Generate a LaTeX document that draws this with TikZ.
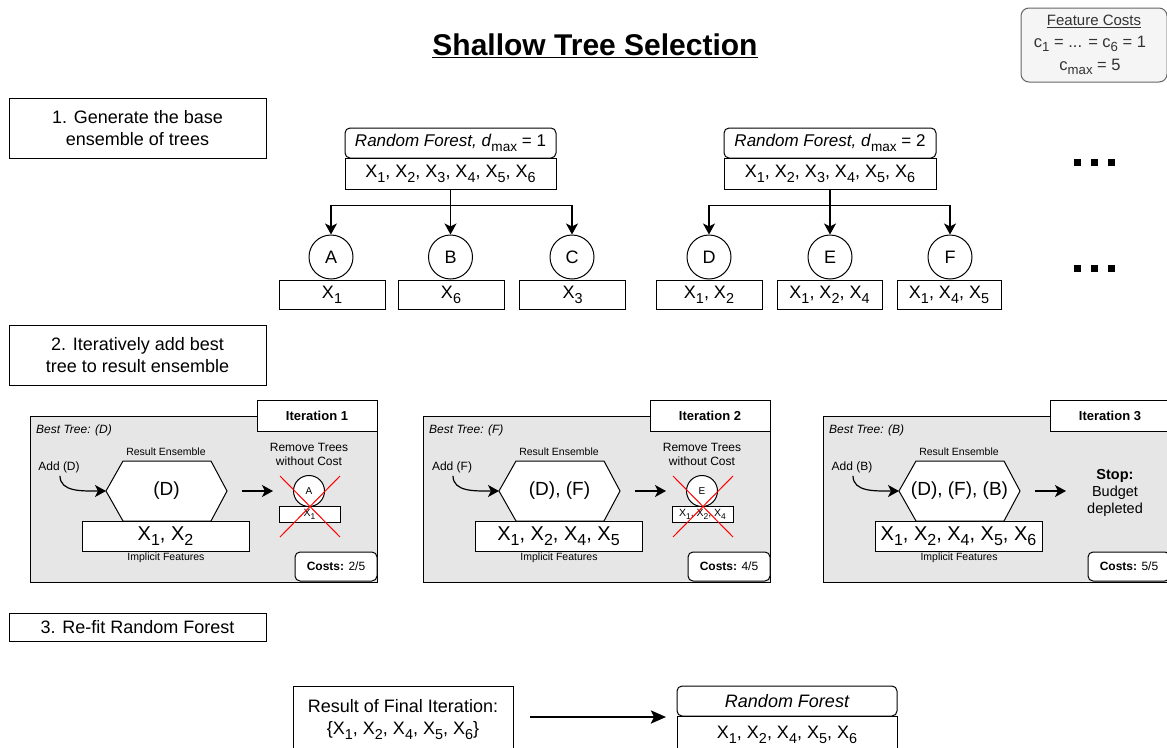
\documentclass[tikz,border=0pt]{standalone}
\usepackage{fontspec}
\setmainfont{Liberation Sans}
\usetikzlibrary{arrows.meta}
\makeatletter
\newcommand\sub[1]{{\dimen@=\f@size pt\dimen@=0.8\dimen@\raisebox{-0.27em}{\fontsize{\strip@pt\dimen@}{0}\selectfont #1}}}
\makeatother
\newcommand\xs[1]{X\sub{#1}}
\newcommand\fs[2]{\fontsize{#1}{#2}\selectfont}
\definecolor{panelgray}{RGB}{230,230,230}
\definecolor{fcfill}{RGB}{245,245,245}
\definecolor{fcdraw}{RGB}{102,102,102}
\definecolor{fctext}{RGB}{51,51,51}
\tikzset{
  box/.style={draw, line width=1pt, fill=white, inner sep=0pt, align=center},
  hdr/.style={box, rounded corners=5pt},
  leaf/.style={circle, draw, line width=1pt, fill=white, minimum size=44pt, inner sep=0pt, font={\fs{18}{22}}},
  arr/.style={line width=1.2pt, -{Stealth[length=11pt,width=12pt,inset=3pt]}},
  lbl/.style={inner sep=0pt, align=center},
}
\newcommand\iterpanel[7]{%
  \node[draw, line width=1pt, fill=panelgray, minimum width=347, minimum height=166, inner sep=0pt] (#1panel) at (203.5,499) {};
  \node[box, minimum width=120, minimum height=31, font={\fs{13}{16}\bfseries}] (#1title) at (317,415.5) {Iteration #2};
  \node[lbl, anchor=west, font={\fs{12}{14}\itshape}] (#1best) at (36,430) {Best Tree: (#3)};
  \node[lbl, font={\fs{10.5}{12}}] (#1relab) at (166,452) {Result Ensemble};
  \draw[line width=1pt, fill=white] (123,461) -- (211,461) -- (227,491) -- (211,521) -- (123,521) -- (106,491) -- cycle;
  \node[lbl, font={\fs{19}{22}}] (#1hex) at (166.5,491) {#5};
  \coordinate (#1hexL) at (106,491);
  \coordinate (#1hexR) at (242,491);
  \coordinate (#1arrE) at (273,491);
  \node[box, minimum width=167, minimum height=30, font={\fs{20}{24}}] (#1feat) at (165.5,536) {#6};
  \node[lbl, font={\fs{10.5}{12}}] (#1implab) at (166,558) {Implicit Features};
  \node[lbl, font={\fs{12}{14}}] (#1add) at (59,467) {Add (#4)};
  \draw[arr] (#1add.south) ++(1,3) .. controls (60,492) and (82,491) .. (#1hexL);
  \draw[arr] (#1hexR) -- (#1arrE);
  \node[box, rounded corners=5pt, minimum width=82, minimum height=29, font={\fs{12}{14}}] (#1cost) at (336,566.5) {\textbf{Costs:} #7};
}
\newcommand\removed[3]{%
  \node[lbl, font={\fs{12}{14}}] (#1rm) at (309,454) {Remove Trees\\without Cost};
  \node[circle, draw, line width=1pt, fill=white, minimum size=31, inner sep=0pt, font={\fs{10}{12}}] (#1rmc) at (309,491) {#2};
  \node[box, minimum width=61, minimum height=16, font={\fs{10.5}{12}}] (#1rmf) at (309.5,514) {#3};
  \coordinate (#1xa) at (280,476);
  \coordinate (#1xb) at (340,537);
  \coordinate (#1xc) at (340,476);
  \coordinate (#1xd) at (280,537);
  \draw[red, line width=1pt] (#1xa) -- (#1xb) (#1xc) -- (#1xd);
}
\begin{document}
\begin{tikzpicture}[x=1pt,y=-1pt]
\clip (0,0) rectangle (1167,747);
\fill[white] (0,0) rectangle (1167,747);

% title
\node[lbl, font={\fs{30}{34}\bfseries}] (title) at (595,46) {\underline{Shallow Tree Selection}};

% feature costs
\node[draw=fcdraw, fill=fcfill, line width=1pt, rounded corners=8pt, minimum width=146, minimum height=74, inner sep=0pt] (fc) at (1094,45) {};
\node[lbl, font={\fs{15}{17}}, text=fctext] (fc1) at (1094,21) {\underline{Feature Costs}};
\node[lbl, font={\fs{16.5}{18}}, text=fctext] (fc2) at (1090,44) {c\sub{1} = ... = c\sub{6} = 1};
\node[lbl, font={\fs{16.5}{18}}, text=fctext] (fc3) at (1090,67) {c\sub{max} = 5};

% step boxes
\node[box, minimum width=257, minimum height=60, font={\fs{18}{22}}] (s1) at (137.5,128) {1. Generate the base\\ensemble of trees};
\node[box, minimum width=257, minimum height=60, font={\fs{18}{22}}] (s2) at (137.5,355) {2. Iteratively add best\\tree to result ensemble};
\node[box, minimum width=257, minimum height=28, font={\fs{18}{22}}] (s3) at (137.5,627) {3. Re-fit Random Forest};

% tree 1
\node[hdr, minimum width=211, minimum height=30, font={\fs{17}{20}}] (h1) at (450.5,143) {\textit{Random Forest, d}\sub{max} = 1};
\node[box, minimum width=211, minimum height=31, font={\fs{18}{22}}] (f1) at (450.5,173.5) {\xs1, \xs2, \xs3, \xs4, \xs5, \xs6};
\node[leaf] (A) at (331,257) {A};
\node[leaf] (B) at (450.5,257) {B};
\node[leaf] (C) at (572,257) {C};
\node[box, minimum width=106, minimum height=29, font={\fs{18}{22}}] (la) at (332,294.5) {\xs1};
\node[box, minimum width=106, minimum height=29, font={\fs{18}{22}}] (lb) at (451,294.5) {\xs6};
\node[box, minimum width=106, minimum height=29, font={\fs{18}{22}}] (lc) at (572.5,294.5) {\xs3};
\draw[arr] (f1.south) -- (B.north);
\draw[arr] (f1.south) -- ++(0,16) -| (A.north);
\draw[arr] (f1.south) -- ++(0,16) -| (C.north);

% tree 2
\node[hdr, minimum width=212, minimum height=30, font={\fs{17}{20}}] (h2) at (830,143) {\textit{Random Forest, d}\sub{max} = 2};
\node[box, minimum width=212, minimum height=31, font={\fs{18}{22}}] (f2) at (830,173.5) {\xs1, \xs2, \xs3, \xs4, \xs5, \xs6};
\node[leaf] (D) at (709,257) {D};
\node[leaf] (E) at (830,257) {E};
\node[leaf] (F) at (950,257) {F};
\node[box, minimum width=106, minimum height=29, font={\fs{18}{22}}] (ld) at (709,294.5) {\xs1, \xs2};
\node[box, minimum width=105, minimum height=29, font={\fs{18}{22}}] (le) at (829.5,294.5) {\xs1, \xs2, \xs4};
\node[box, minimum width=104, minimum height=29, font={\fs{18}{22}}] (lf) at (949,294.5) {\xs1, \xs4, \xs5};
\draw[arr] (f2.south) -- (E.north);
\draw[arr] (f2.south) -- ++(0,16) -| (D.north);
\draw[arr] (f2.south) -- ++(0,16) -| (F.north);

% ellipsis dots
\foreach \i/\x in {1/1077,2/1094,3/1111}{
  \node[fill=black, minimum size=7, inner sep=0pt] (dta\i) at (\x,162) {};
  \node[fill=black, minimum size=7, inner sep=0pt] (dtb\i) at (\x,268) {};
}

% iteration panels
\begin{scope}
  \iterpanel{p1}{1}{D}{D}{(D)}{\xs1, \xs2}{2/5}
  \removed{p1}{A}{\xs1}
\end{scope}
\begin{scope}[shift={(393,0)}]
  \iterpanel{p2}{2}{F}{F}{(D), (F)}{\xs1, \xs2, \xs4, \xs5}{4/5}
  \removed{p2}{E}{\xs1, \xs2, \xs4}
\end{scope}
\begin{scope}[shift={(793,0)}]
  \iterpanel{p3}{3}{B}{B}{(D), (F), (B)}{\xs1, \xs2, \xs4, \xs5, \xs6}{5/5}
  \node[lbl, font={\fs{14.5}{17}}] (p3stop) at (322,493) {\textbf{Stop:}\\Budget\\depleted};
\end{scope}

% final
\node[box, anchor=north, minimum width=220, minimum height=66, font={\fs{18}{22}}] (res) at (403,686) {Result of Final Iteration:\\\{\xs1, \xs2, \xs4, \xs5, \xs6\}};
\node[hdr, minimum width=220, minimum height=30, font={\fs{18}{22}\itshape}] (rfh) at (787,701) {Random Forest};
\node[box, anchor=north, minimum width=220, minimum height=36, font={\fs{18}{22}}] (rff) at (787,716) {\xs1, \xs2, \xs4, \xs5, \xs6};
\coordinate (ba) at (530,717);
\coordinate (bb) at (666,717);
\draw[line width=2.5pt, -{Stealth[length=15pt,width=13pt,inset=3pt]}] (ba) -- (bb);
\end{tikzpicture}
\end{document}
